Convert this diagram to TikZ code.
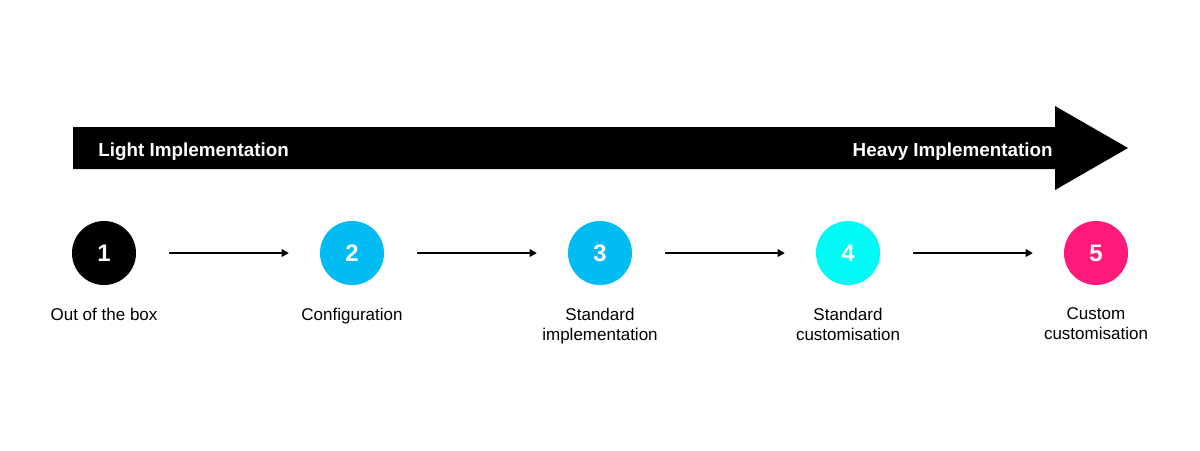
\documentclass[tikz,border=0pt]{standalone}
\usepackage{fontspec}
\setmainfont{Liberation Sans}
\usetikzlibrary{arrows.meta}
\definecolor{StepBlue}{RGB}{0,188,242}
\definecolor{StepCyan}{RGB}{0,250,245}
\definecolor{StepPink}{RGB}{255,26,122}

\begin{document}
\begin{tikzpicture}[x=0.025cm, y=-0.025cm,
          num/.style={circle, minimum size=1.6cm, inner sep=0pt, text=white,
                      font=\fontsize{17}{18}\selectfont\bfseries},
          lbl/.style={anchor=north, inner sep=0pt, align=center,
                      font=\fontsize{12.1}{14.2}\selectfont},
          hdr/.style={inner sep=0pt, text=white,
                      font=\fontsize{13.4}{16}\selectfont\bfseries},
          arr/.style={-{Triangle[length=5pt, width=5.5pt]}, line width=0.8pt,
                      shorten <=0.825cm, shorten >=0.775cm}
        ]
        \fill[white] (0,0) rectangle (1200,450);
        \useasboundingbox (0,0) rectangle (1200,450);

        % Big arrow
        \fill[black] (73,127) -- (1055,127) -- (1055,106) -- (1128,148)
              -- (1055,190) -- (1055,169) -- (73,169) -- cycle;
        \node[hdr, anchor=base west] (light) at (98,156) {Light Implementation};
        \node[hdr, anchor=base east] (heavy) at (1053,156) {Heavy Implementation};

        % Steps
        \node[num, fill=black]     (s1) at (104,253)  {1};
        \node[num, fill=StepBlue]  (s2) at (352,253)  {2};
        \node[num, fill=StepBlue]  (s3) at (600,253)  {3};
        \node[num, fill=StepCyan]  (s4) at (848,253)  {4};
        \node[num, fill=StepPink]  (s5) at (1096,253) {5};

        \node[lbl] (l1) at (104,307.8)  {Out of the box};
        \node[lbl] (l2) at (352,307.8)  {Configuration};
        \node[lbl] (l3) at (600,307.8)  {Standard\\implementation};
        \node[lbl] (l4) at (848,307.8)  {Standard\\customisation};
        \node[lbl] (l5) at (1096,307.8) {Custom\\customisation};

        \draw[arr] (s1) -- (s2);
        \draw[arr] (s2) -- (s3);
        \draw[arr] (s3) -- (s4);
        \draw[arr] (s4) -- (s5);
      \end{tikzpicture}
\end{document}
